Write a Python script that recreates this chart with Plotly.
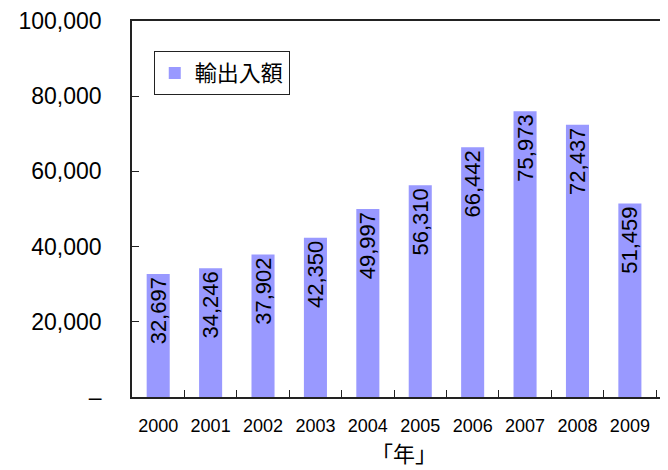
import plotly.graph_objects as go

years = ["2000", "2001", "2002", "2003", "2004", "2005", "2006", "2007", "2008", "2009"]
values = [32697, 34246, 37902, 42350, 49997, 56310, 66442, 75973, 72437, 51459]
series_name = "輸出入額"
y_tickvals = [0, 20000, 40000, 60000, 80000, 100000]
y_ticktext = ["–", "20,000", "40,000", "60,000", "80,000", "100,000"]
x_title = "｢年｣"

fig = go.Figure()
fig.add_trace(go.Bar(
    x=years, y=values, name=series_name,
    marker=dict(color="#9999FF", line=dict(width=0)),
    width=0.44,
    text=[f"{v:,}" for v in values],
    textposition="inside", insidetextanchor="end", textangle=-90,
    textfont=dict(family="Liberation Sans, Arial", size=22, color="black"),
    cliponaxis=False,
    showlegend=True,
))

fig.update_layout(
    width=668, height=470,
    margin=dict(l=124, r=0, t=13, b=81, autoexpand=False),
    paper_bgcolor="white", plot_bgcolor="white",
    font=dict(family="Liberation Sans, Arial", color="black"),
    uniformtext=dict(mode="show", minsize=22),
    showlegend=True,
    legend=dict(
        x=0.04, y=0.92, xanchor="left", yanchor="top",
        bordercolor="#222", borderwidth=1, bgcolor="white",
        font=dict(family="Noto Sans CJK JP", size=22, color="black"),
        itemwidth=30,
    ),
    xaxis=dict(
        type="category", range=[-0.5, 9.88], automargin=False,
        showline=True, linecolor="#222", linewidth=1.5, mirror=True,
        ticks="inside", ticklen=7, tickcolor="#222", tickson="boundaries",
        tickfont=dict(family="Liberation Sans, Arial", size=18, color="black"),
        showgrid=False, zeroline=False,
        title=dict(text=x_title, font=dict(family="Noto Sans CJK JP", size=22, color="black"), standoff=10),
        ticklabelstandoff=12,
    ),
    yaxis=dict(
        range=[0, 100000], automargin=False,
        tickvals=y_tickvals, ticktext=y_ticktext,
        showline=True, linecolor="#222", linewidth=1.5, mirror=False,
        ticks="inside", ticklen=7, tickcolor="#222",
        tickfont=dict(family="Liberation Sans, Arial", size=23, color="black"),
        showgrid=False, zeroline=False,
        ticklabelstandoff=24,
    ),
    bargap=0.56,
)

fig.write_html("out.html")
